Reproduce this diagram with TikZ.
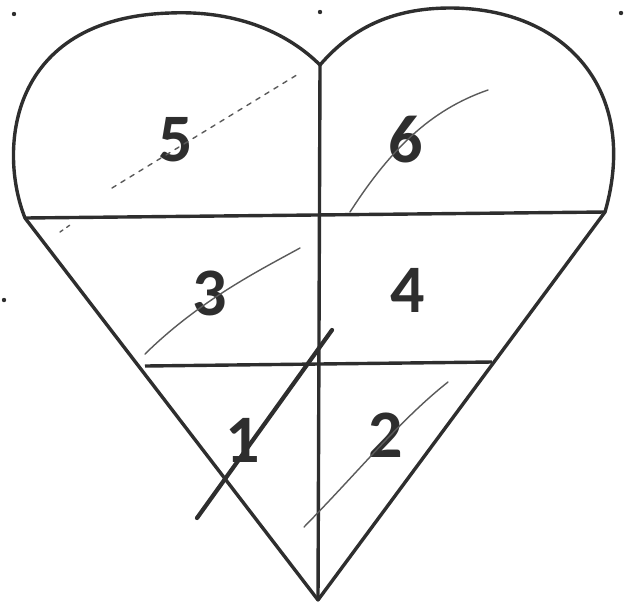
\documentclass[tikz,border=0pt]{standalone}
\usepackage{fontspec}
\setmainfont{Carlito}
\usepackage{tikz}
\usetikzlibrary{calc}
\definecolor{inkdark}{HTML}{2E2E2E}
\definecolor{inkfaint}{HTML}{5A5A5A}
\tikzset{
  outline/.style={draw=inkdark, line width=2.9pt, line join=round},
  digit/.style={font=\fontsize{58}{58}\selectfont\bfseries, text=inkdark, inner sep=0pt},
  stray/.style={draw=inkfaint, line width=1.2pt, line cap=round},
  speck/.style={fill=inkdark, draw=none},
}
\begin{document}
\begin{tikzpicture}[x=0.03cm, y=-0.03cm]
  \useasboundingbox (0,0) rectangle (624,604);
  % corners of the heart
  \coordinate (dip) at (320,65);
  \coordinate (tip) at (318,600);
  \coordinate (wl) at (25,218);
  \coordinate (wr) at (605,212);
  \coordinate (nl) at (145,366);
  \coordinate (nr) at (492,362);
  % outline: two lobes and the point
  \draw[outline] (wl) .. controls (-2,150) and (8,18) .. (170,13)
    .. controls (240,10) and (290,35) .. (dip)
    .. controls (350,30) and (390,8) .. (450,8)
    .. controls (565,8) and (640,90) .. (wr) -- (tip) -- cycle;
  % dividing lines
  \draw[outline] (dip) -- (tip);
  \draw[outline] (wl) -- (wr);
  \draw[outline] (nl) -- (nr);
  % region numbers
  \node[digit] (n5) at (176,140) {5};
  \node[digit] (n6) at (406,140) {6};
  \node[digit] (n3) at (210,293) {3};
  \node[digit] (n4) at (408,290) {4};
  \node[digit] (n1) at (243,440) {1};
  \node[digit] (n2) at (386,435) {2};
  % pencil strokes
  \draw[outline, line width=3.6pt, line cap=round] (197,518) -- (332,330);
  \draw[stray] (145,354) .. controls (200,300) and (260,270) .. (300,248);
  \draw[stray] (350,212) .. controls (390,150) and (430,110) .. (488,90);
  \draw[stray] (304,527) .. controls (360,470) and (400,420) .. (448,382);
  \draw[stray, dash pattern=on 4pt off 5pt] (112,188) -- (300,73);
  \draw[stray, dash pattern=on 3pt off 4pt] (60,232) -- (70,225);
  % specks
  \fill[speck] (14,14) circle (2.2);
  \fill[speck] (320,12) circle (2.2);
  \fill[speck] (621,13) circle (2.2);
  \fill[speck] (4,300) circle (2.2);
\end{tikzpicture}
\end{document}
